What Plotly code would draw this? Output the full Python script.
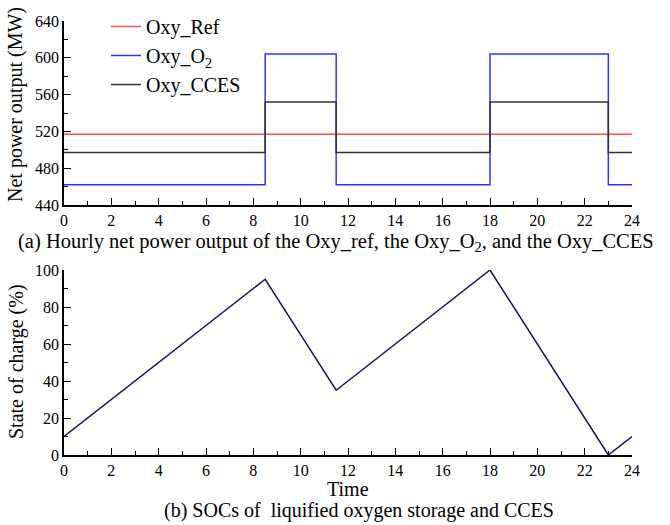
import plotly.graph_objects as go

# ---- data ----
time_steps = [0, 8.5, 11.5, 18, 23, 24]
oxy_ref = [517, 517, 517, 517, 517, 517]
oxy_o2 = [462, 604, 462, 604, 462, 462]
oxy_cces = [497, 552, 497, 552, 497, 497]

soc_time = [0, 8.5, 11.5, 18, 23, 24]
soc_values = [10, 95, 35, 100, 0, 10]

x_ticks = list(range(0, 25, 2))

W, H = 670, 525
FONT = "Liberation Serif"

def px(x):
    return x / W

def py(y):
    return 1 - y / H

fig = go.Figure()

fig.add_trace(go.Scatter(x=time_steps, y=oxy_ref, mode="lines", line_shape="hv",
                         name="Oxy_Ref", line=dict(color="rgb(255,80,80)", width=1.5),
                         xaxis="x", yaxis="y"))
fig.add_trace(go.Scatter(x=time_steps, y=oxy_o2, mode="lines", line_shape="hv",
                         name="Oxy_O<sub>2</sub>", line=dict(color="rgb(50,50,255)", width=1.5),
                         xaxis="x", yaxis="y"))
fig.add_trace(go.Scatter(x=time_steps, y=oxy_cces, mode="lines", line_shape="hv",
                         name="Oxy_CCES", line=dict(color="rgb(50,50,50)", width=1.5),
                         xaxis="x", yaxis="y"))
fig.add_trace(go.Scatter(x=soc_time, y=soc_values, mode="lines",
                         name="SOC", showlegend=False,
                         line=dict(color="rgb(20,20,90)", width=1.5),
                         xaxis="x2", yaxis="y2"))

xdom = [px(64), px(632)]
TICKFONT = dict(family=FONT, size=16, color="black")
common_x = dict(range=[0, 24], tickvals=x_ticks, ticks="inside", ticklen=7, tickwidth=1.2,
                tickcolor="black", showline=True, linecolor="black", linewidth=1.5,
                showgrid=False, zeroline=False, domain=xdom, automargin=False,
                tickfont=TICKFONT,
                minor=dict(dtick=1, ticks="inside", ticklen=4, tickcolor="black", tickwidth=1.2))

fig.update_layout(
    template="none",
    width=W, height=H,
    margin=dict(l=0, r=0, t=0, b=0, autoexpand=False),
    paper_bgcolor="white", plot_bgcolor="white",
    font=dict(family=FONT, size=16, color="black"),
    xaxis=dict(anchor="y", **common_x),
    yaxis=dict(range=[440, 640], tickvals=[440, 480, 520, 560, 600, 640], ticks="inside",
               ticklen=7, tickwidth=1.2, tickcolor="black", showline=True, linecolor="black",
               linewidth=1.5, showgrid=False, zeroline=False, anchor="x", automargin=False,
               domain=[py(205), py(21)], tickfont=TICKFONT,
               minor=dict(dtick=20, ticks="inside", ticklen=4, tickcolor="black", tickwidth=1.2)),
    xaxis2=dict(anchor="y2", **common_x),
    yaxis2=dict(range=[0, 100], tickvals=[0, 20, 40, 60, 80, 100], ticks="inside",
                ticklen=7, tickwidth=1.2, tickcolor="black", showline=True, linecolor="black",
                linewidth=1.5, showgrid=False, zeroline=False, anchor="x2", automargin=False,
                domain=[py(455), py(270)], tickfont=TICKFONT,
                minor=dict(dtick=10, ticks="inside", ticklen=4, tickcolor="black", tickwidth=1.2)),
    legend=dict(x=px(106), y=py(7), xanchor="left", yanchor="top",
                bgcolor="rgba(0,0,0,0)", font=dict(family=FONT, size=20, color="black"),
                tracegroupgap=0, itemwidth=30),
    showlegend=True,
)

annos = [
    dict(text="Net power output (MW)", x=px(16), y=py(105), textangle=-90, size=20),
    dict(text="State of charge (%)", x=px(16), y=py(362), textangle=-90, size=20),
    dict(text="(a) Hourly net power output of the Oxy_ref, the Oxy_O<sub>2</sub>, and the Oxy_CCES",
         x=px(336), y=py(242), textangle=0, size=20.5),
    dict(text="Time", x=px(348), y=py(489), textangle=0, size=20),
    dict(text="(b) SOCs of  liquified oxygen storage and CCES", x=px(359), y=py(510), textangle=0, size=20),
]
for a in annos:
    fig.add_annotation(text=a["text"], x=a["x"], y=a["y"], xref="paper", yref="paper",
                       xanchor="center", yanchor="middle", showarrow=False, textangle=a["textangle"],
                       font=dict(family=FONT, size=a["size"], color="black"))

fig.write_html("out.html")
